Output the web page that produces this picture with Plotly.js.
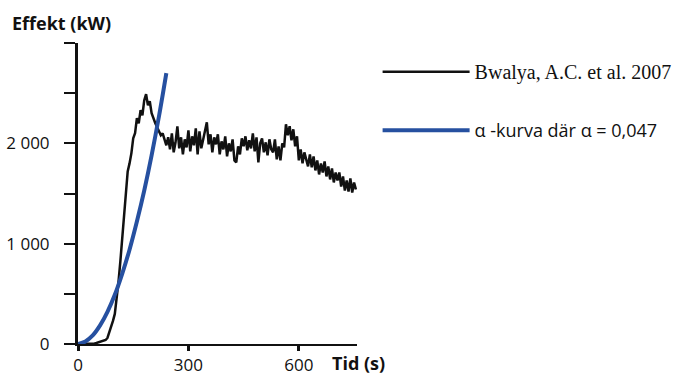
<!DOCTYPE html>
<html>
<head>
<meta charset="utf-8">
<script src="https://cdn.plot.ly/plotly-3.0.1.min.js"></script>
<style>
html,body{margin:0;padding:0;background:#fff;}
#chart{width:687px;height:380px;}
</style>
</head>
<body>
<div id="chart"></div>
<script>
// Measured heat release (Bwalya et al. 2007), kW, sampled every 5 s from t = 0 s
const measuredStart = 0;
const measuredStep = 5;
const measuredQ = [
  0,0,0,0,0,0,0,0,0,5,10,15,20,25,30,40,60,110,170,230,
  300,440,620,820,1040,1300,1560,1720,1800,1900,2050,2100,2250,2200,2330,2280,2430,2490,2380,2420,
  2300,2240,2200,2160,2120,2080,2100,2050,1980,2060,
  1940,2100,1910,2010,2170,1950,2060,1890,2040,1960,
  2130,1920,2070,1980,2150,1890,2120,1950,2030,2100,
  2210,1990,2090,1910,2060,1990,2090,1890,2020,1940,
  2070,1870,2000,1920,2040,1830,1810,1970,1890,2050,
  1970,2070,1930,2030,1950,2100,1920,2060,1810,2000,
  2050,1910,2010,1880,2040,1940,1910,2040,1840,1970,
  1830,2000,1960,2190,2080,2170,2030,2140,1970,2070,
  1830,1940,1800,1910,1850,1770,1890,1760,1870,1730,
  1830,1690,1800,1710,1820,1670,1770,1640,1750,1610,
  1710,1630,1710,1570,1670,1530,1630,1520,1650,1510,
  1610,1540
];
// alpha-curve (alpha = 0.047)
const alphaT = [0,20,40,60,80,100,120,140,160,180,200,220,240];
const alphaQ = [0,25,85,185,320,490,700,940,1220,1530,1880,2270,2700];

const yTickVals = [0,500,1000,1500,2000,2500,3000];
const yTickText = ['0','','1 000','','2 000','',''];
const xTickVals = [0,300,600];
const xTickText = ['0','300','600'];

const seriesNames = [
  '<span style="font-family:\'Liberation Serif\',serif;font-size:20px">Bwalya, A.C. et al. 2007</span>',
  'α -kurva där α = 0,047'
];
const xTitle = 'Tid (s)';
const yTitle = 'Effekt (kW)';

const sans = 'Open Sans, Liberation Sans, sans-serif';
const tickFont = {family:sans, size:17, color:'#111'};

const traces = [
  {
    type:'scatter', mode:'lines',
    x0: measuredStart, dx: measuredStep, y: measuredQ,
    name: seriesNames[0], legendgroup:'a',
    line:{color:'#111', width:2.5}
  },
  {
    type:'scatter', mode:'lines',
    x: alphaT, y: alphaQ,
    name: seriesNames[1], legendgroup:'b',
    line:{color:'#2650a0', width:4, shape:'spline'}
  }
];

const layout = {
  width:687, height:380,
  margin:{l:78, r:329, t:43, b:36},
  paper_bgcolor:'#fff', plot_bgcolor:'#fff',
  showlegend:true,
  legend:{
    x:1.07, xanchor:'left', y:0.965, yanchor:'top',
    itemwidth:87, traceorder:'grouped', tracegroupgap:32,
    font:{family:sans, size:18, color:'#111'},
    bgcolor:'rgba(0,0,0,0)'
  },
  xaxis:{
    range:[0,758], showgrid:false, zeroline:false,
    showline:true, linecolor:'#111', linewidth:2,
    ticks:'outside', ticklen:5, tickwidth:3, tickcolor:'#111',
    tickvals:xTickVals, ticktext:xTickText,
    tickfont:tickFont, fixedrange:true
  },
  yaxis:{
    range:[0,3000], showgrid:false, zeroline:false,
    showline:true, linecolor:'#111', linewidth:3,
    ticks:'outside', ticklen:11, tickwidth:2, tickcolor:'#111',
    ticklabelstandoff:11,
    tickvals:yTickVals, ticktext:yTickText,
    tickfont:tickFont, fixedrange:true
  },
  annotations:[
    {text:'<b>'+yTitle+'</b>', xref:'paper', yref:'paper', x:-0.245, y:1.0, xanchor:'left', yanchor:'bottom', yshift:6, showarrow:false,
     font:{family:sans, size:18, color:'#111'}},
    {text:'<b>'+xTitle+'</b>', xref:'paper', yref:'paper', x:0.905, y:0, xanchor:'left', yanchor:'top', yshift:-5, showarrow:false,
     font:{family:sans, size:18, color:'#111'}}
  ]
};

Plotly.newPlot('chart', traces, layout, {displayModeBar:false, staticPlot:true});
</script>
</body>
</html>
